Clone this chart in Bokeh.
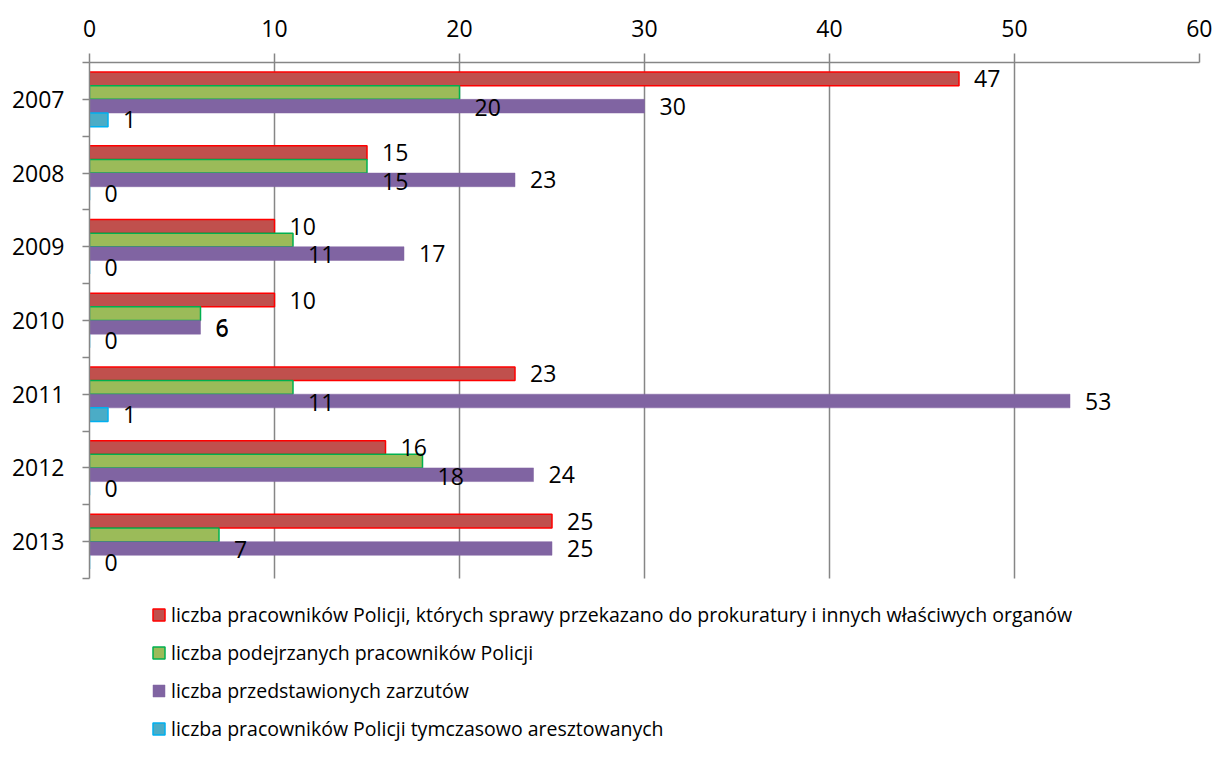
from bokeh.plotting import figure
from bokeh.models import (Range1d, FixedTicker, Legend, LegendItem, ColumnDataSource,
                          CustomJSTickFormatter)
from bokeh.embed import file_html
from bokeh.resources import INLINE
from bokeh.core.properties import value

years = ["2007", "2008", "2009", "2010", "2011", "2012", "2013"]
przekazani = [47, 15, 10, 10, 23, 16, 25]
podejrzani = [20, 15, 11, 6, 11, 18, 7]
zarzuty = [30, 23, 17, 6, 53, 24, 25]
aresztowani = [1, 0, 0, 0, 1, 0, 0]
series_names = [
    "liczba pracowników Policji, których sprawy przekazano do prokuratury i innych właściwych organów",
    "liczba podejrzanych pracowników Policji",
    "liczba przedstawionych zarzutów",
    "liczba pracowników Policji tymczasowo aresztowanych",
]
x_ticks = [0, 10, 20, 30, 40, 50, 60]

series = [przekazani, podejrzani, zarzuty, aresztowani]
fills = ["#C0504D", "#9BBB59", "#8064A2", "#4BACC6"]
lines = ["#FF0000", "#00B050", "#8064A2", "#00B0F0"]
label_dy = [0, 15, 0, 0]

FONT = value("Open Sans")
GRAY = "#868686"

W, H = 1212, 741
TOP, LEFT, RIGHT = 62, 89, 13
DATA_H = 516                      # pixel height of the category area
n = len(years)
frame_h = H - TOP
y_end = n * frame_h / DATA_H      # extend frame below categories to host the legend

p = figure(width=W, height=H, x_range=Range1d(0, 60), y_range=Range1d(y_end, 0),
           x_axis_location="above", output_backend="svg", toolbar_location=None,
           min_border_left=LEFT, min_border_right=RIGHT, min_border_top=TOP, min_border_bottom=0)
p.outline_line_color = None
p.background_fill_color = "white"

bh = 0.185
renderers = []
sources = []
for j, (vals, fc, lc) in enumerate(zip(series, fills, lines)):
    ys = [i + 0.5 + (j - 1.5) * bh for i in range(n)]
    src = ColumnDataSource(dict(y=ys, v=vals, t=[str(v) for v in vals]))
    r = p.hbar(y="y", left=0, right="v", height=bh, source=src,
               fill_color=fc, line_color=lc, line_width=1.5 if j != 2 else 0.5)
    renderers.append(r)
    sources.append(src)

for src, dy in zip(sources, label_dy):
    p.text(x="v", y="y", text="t", source=src, x_offset=15, y_offset=dy,
           text_align="left", text_baseline="middle", text_font=FONT,
           text_font_size="23px", text_color="black")

# x axis (top)
xa = p.xaxis[0]
xa.ticker = FixedTicker(ticks=x_ticks)
xa.axis_line_color = GRAY
xa.axis_line_width = 1.5
xa.major_tick_line_color = GRAY
xa.major_tick_line_width = 1.5
xa.major_tick_out = 9
xa.major_tick_in = 0
xa.minor_tick_line_color = None
xa.major_label_text_font = "Open Sans"
xa.major_label_text_font_size = "23px"
xa.major_label_text_color = "black"
xa.major_label_standoff = 17

# y axis (left)
ya = p.yaxis[0]
ya.bounds = (0, n)
ya.ticker = FixedTicker(ticks=[i + 0.5 for i in range(n)], minor_ticks=list(range(n + 1)))
ya.formatter = CustomJSTickFormatter(args=dict(years=years),
    code="const i = Math.floor(tick); return (i >= 0 && i < years.length) ? years[i] : '';")
ya.axis_line_color = GRAY
ya.axis_line_width = 1.5
ya.major_tick_line_color = GRAY
ya.major_tick_line_width = 1.5
ya.major_tick_out = 7
ya.major_tick_in = 0
ya.minor_tick_line_color = GRAY
ya.minor_tick_line_width = 1.5
ya.minor_tick_out = 7
ya.minor_tick_in = 0
ya.major_label_text_font = "Open Sans"
ya.major_label_text_font_size = "23px"
ya.major_label_text_color = "black"
ya.major_label_standoff = 18

p.ygrid.grid_line_color = None
gx = p.xgrid[0]
gx.ticker = FixedTicker(ticks=x_ticks)
gx.grid_line_color = GRAY
gx.grid_line_width = 1.5
gx.cross_bounds = (0, n)
gx.level = "underlay"

legend = Legend(items=[LegendItem(label=nm, renderers=[r]) for nm, r in zip(series_names, renderers)],
                location=(62, -1), orientation="vertical")
legend.label_text_font = "Open Sans"
legend.label_text_font_size = "19.5px"
legend.label_text_color = "black"
legend.label_height = 22
legend.glyph_width = 15
legend.glyph_height = 15
legend.label_standoff = 5
legend.spacing = 11
legend.padding = 0
legend.margin = 0
legend.border_line_color = None
legend.background_fill_alpha = 0
p.add_layout(legend)

open("out.html", "w").write(file_html(p, INLINE))
